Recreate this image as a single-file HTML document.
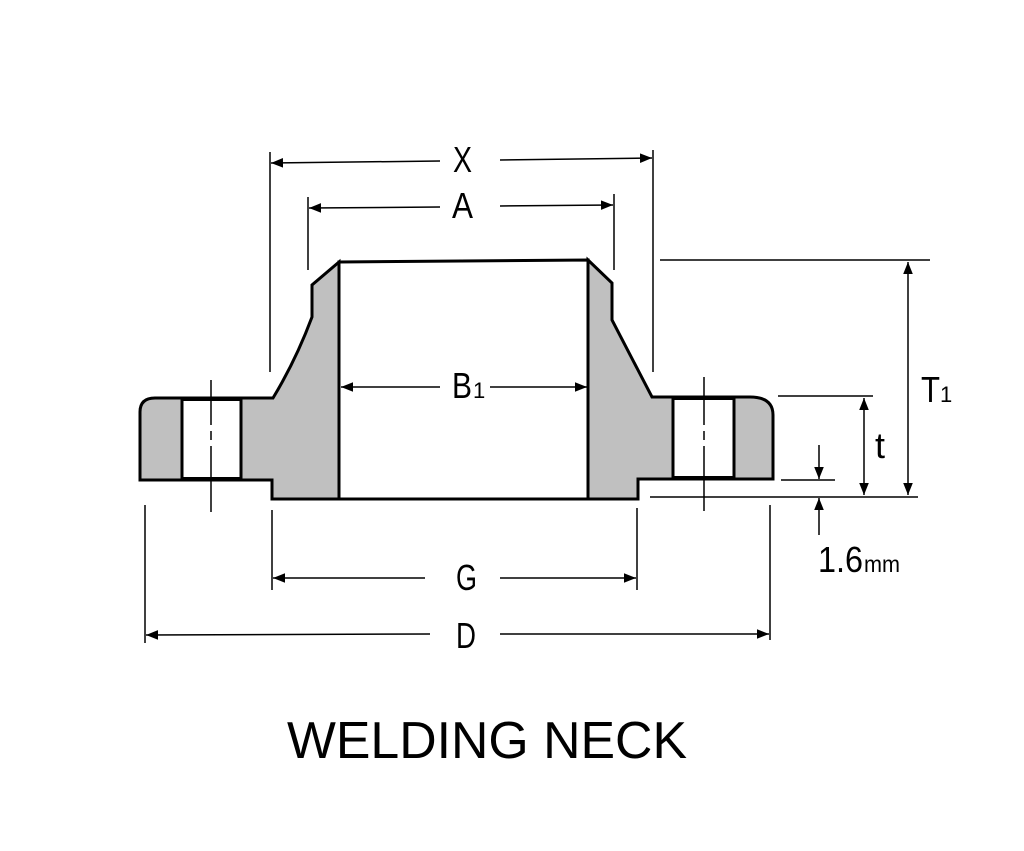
<!DOCTYPE html>
<html><head><meta charset="utf-8"><style>html,body{margin:0;padding:0;background:#fff}svg{display:block}</style></head>
<body>
<svg width="1024" height="851" viewBox="0 0 1024 851" xmlns="http://www.w3.org/2000/svg" font-family="Liberation Sans, Arial, sans-serif">
<defs>
<marker id="ar" viewBox="0 0 10 10" refX="10" refY="5" markerWidth="12" markerHeight="12" markerUnits="userSpaceOnUse" orient="auto-start-reverse"><path d="M0,1 L10,5 L0,9 z" fill="#000"/></marker>
</defs>
<rect width="1024" height="851" fill="#fff"/>
<g fill="#c0c0c0" stroke="#000" stroke-width="3" stroke-linejoin="miter">
<path d="M339,262 L312,285 L312,317 Q296,360 273,398 L155,398 Q140,398 140,412 L140,480 L272,480 L272,499 L339,499 Z"/>
<path d="M588,260 L612,283 L612,320 L652,397 L750,397 Q773,397 773,415 L773,479 L638,479 L638,499 L588,499 Z"/>
</g>
<path d="M339,262 L588,260 L588,499 L339,499 Z" fill="#fff" stroke="#000" stroke-width="3"/>
<rect x="182" y="399.5" width="59" height="79" fill="#fff" stroke="#000" stroke-width="3"/>
<rect x="673" y="398.5" width="61" height="79" fill="#fff" stroke="#000" stroke-width="3"/>
<g stroke="#000" stroke-width="1.5">
<line x1="211" y1="380" x2="211" y2="425"/><line x1="211" y1="431" x2="211" y2="440"/><line x1="211" y1="446" x2="211" y2="512"/>
<line x1="704" y1="377" x2="704" y2="425"/><line x1="704" y1="431" x2="704" y2="440"/><line x1="704" y1="446" x2="704" y2="511"/>
<line x1="270" y1="152" x2="270" y2="372"/><line x1="653" y1="150" x2="653" y2="372"/>
<line x1="308" y1="197" x2="308" y2="270"/><line x1="614" y1="194" x2="614" y2="270"/>
<line x1="660" y1="260" x2="930" y2="260"/>
<line x1="778" y1="396" x2="873" y2="396"/>
<line x1="781" y1="480" x2="835" y2="480"/>
<line x1="650" y1="497" x2="918" y2="497"/>
<line x1="272" y1="510" x2="272" y2="590"/><line x1="637" y1="508" x2="637" y2="590"/>
<line x1="145" y1="505" x2="145" y2="643"/><line x1="770" y1="505" x2="770" y2="640"/>
<line x1="440" y1="161" x2="271" y2="163" marker-end="url(#ar)"/><line x1="500" y1="160" x2="652" y2="158" marker-end="url(#ar)"/>
<line x1="440" y1="207" x2="309" y2="208" marker-end="url(#ar)"/><line x1="500" y1="206" x2="613" y2="205" marker-end="url(#ar)"/>
<line x1="440" y1="387" x2="341" y2="387" marker-end="url(#ar)"/><line x1="490" y1="387" x2="587" y2="387" marker-end="url(#ar)"/>
<line x1="425" y1="578" x2="273" y2="578" marker-end="url(#ar)"/><line x1="500" y1="578" x2="636" y2="578" marker-end="url(#ar)"/>
<line x1="430" y1="634" x2="146" y2="635" marker-end="url(#ar)"/><line x1="500" y1="634" x2="769" y2="634" marker-end="url(#ar)"/>
<line x1="908" y1="262" x2="908" y2="495" marker-start="url(#ar)" marker-end="url(#ar)"/>
<line x1="864" y1="398" x2="864" y2="495" marker-start="url(#ar)" marker-end="url(#ar)"/>
<line x1="819" y1="445" x2="819" y2="479" marker-end="url(#ar)"/>
<line x1="819" y1="535" x2="819" y2="498" marker-end="url(#ar)"/>
</g>
<g fill="#000" font-size="36">
<text x="453" y="172" textLength="19" lengthAdjust="spacingAndGlyphs">X</text>
<text x="452" y="218" textLength="21" lengthAdjust="spacingAndGlyphs">A</text>
<text x="452" y="398" textLength="20" lengthAdjust="spacingAndGlyphs">B</text><text x="473" y="398" font-size="22">1</text>
<text x="456" y="590" textLength="21" lengthAdjust="spacingAndGlyphs">G</text>
<text x="456" y="648" textLength="20" lengthAdjust="spacingAndGlyphs">D</text>
<text x="921" y="402" textLength="19" lengthAdjust="spacingAndGlyphs">T</text><text x="940" y="402" font-size="22">1</text>
<text x="875" y="458" textLength="10" lengthAdjust="spacingAndGlyphs">t</text>
</g>
<text x="818" y="572" font-size="36" fill="#000" textLength="45" lengthAdjust="spacingAndGlyphs">1.6</text>
<text x="864" y="572" font-size="23" fill="#000" textLength="36" lengthAdjust="spacingAndGlyphs">mm</text>
<text x="287" y="758" font-size="52" fill="#000" textLength="400" lengthAdjust="spacingAndGlyphs">WELDING NECK</text>
</svg>
</body></html>
